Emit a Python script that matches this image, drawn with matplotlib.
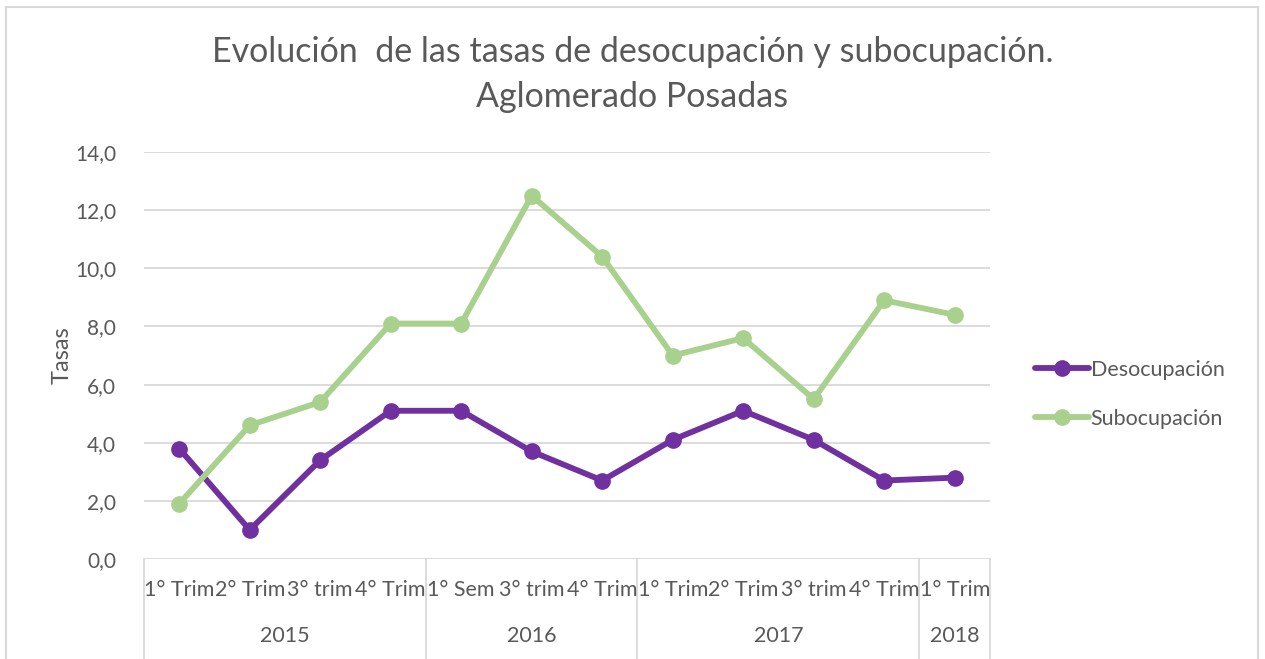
import matplotlib.pyplot as plt
from matplotlib.patches import Rectangle
from matplotlib.ticker import FuncFormatter

plt.rcParams["font.family"] = ["Lato", "DejaVu Sans"]

periods = ["1° Trim", "2° Trim", "3° trim", "4° Trim",
           "1° Sem", "3° trim", "4° Trim",
           "1° Trim", "2° Trim", "3° trim", "4° Trim",
           "1° Trim"]
years = ["2015", "2016", "2017", "2018"]
periods_per_year = [4, 3, 4, 1]

desocupacion = [3.8, 1.0, 3.4, 5.1, 5.1, 3.7, 2.7, 4.1, 5.1, 4.1, 2.7, 2.8]
subocupacion = [1.9, 4.6, 5.4, 8.1, 8.1, 12.5, 10.4, 7.0, 7.6, 5.5, 8.9, 8.4]

TEXT = "#595959"
GRID = "#d9d9d9"

fig = plt.figure(figsize=(12.65, 6.59), dpi=100)
ax = fig.add_axes([0.1138, 0.1517, 0.6688, 0.6176])

x = list(range(len(periods)))
ax.plot(x, desocupacion, color="#7030A0", lw=4.2, marker="o", ms=11,
        label="Desocupación", zorder=3, solid_capstyle="round")
ax.plot(x, subocupacion, color="#A9D18E", lw=4.2, marker="o", ms=11,
        label="Subocupación", zorder=3, solid_capstyle="round")

ax.set_xlim(-0.5, len(periods) - 0.5)
ax.set_ylim(0, 14)
ax.set_yticks(range(0, 15, 2))
ax.yaxis.set_major_formatter(FuncFormatter(lambda v, p: f"{v:.1f}".replace(".", ",")))
ax.grid(axis="y", color=GRID, lw=1.3)
ax.set_axisbelow(True)
for s in ax.spines.values():
    s.set_visible(False)
ax.tick_params(axis="y", length=0, pad=20, labelsize=15, labelcolor=TEXT)
ax.tick_params(axis="x", length=0)
ax.set_xticks([])

ax.set_ylabel("Tasas", fontsize=17, color=TEXT, labelpad=2)

# multi-level category axis
tr = ax.get_xaxis_transform()
for i, lab in enumerate(periods):
    ax.text(i, -0.076, lab, transform=tr, ha="center", va="center",
            fontsize=15.5, color=TEXT, clip_on=False)
start = 0
bounds = [-0.5]
for yr, n in zip(years, periods_per_year):
    center = start + (n - 1) / 2
    ax.text(center, -0.189, yr, transform=tr, ha="center", va="center",
            fontsize=15.5, color=TEXT, clip_on=False)
    start += n
    bounds.append(start - 0.5)
for b in bounds:
    ax.plot([b, b], [0, -0.26], transform=tr, color=GRID, lw=1.3, clip_on=False)

fig.suptitle("Evolución  de las tasas de desocupación y subocupación.\nAglomerado Posadas",
             x=0.5, y=0.945, fontsize=24.5, color=TEXT, linespacing=1.5)

ax.legend(loc="center left", bbox_to_anchor=(1.03, 0.405), frameon=False,
          fontsize=15.5, labelcolor=TEXT, handlelength=2.5, handletextpad=0.1,
          labelspacing=1.35)

fig.patches.append(Rectangle((6 / 1265, -0.01), 1252 / 1265, 1 - 7 / 659 + 0.01,
                             transform=fig.transFigure, fill=False,
                             edgecolor=GRID, lw=1.5))

fig.savefig("out.png", dpi=100)
